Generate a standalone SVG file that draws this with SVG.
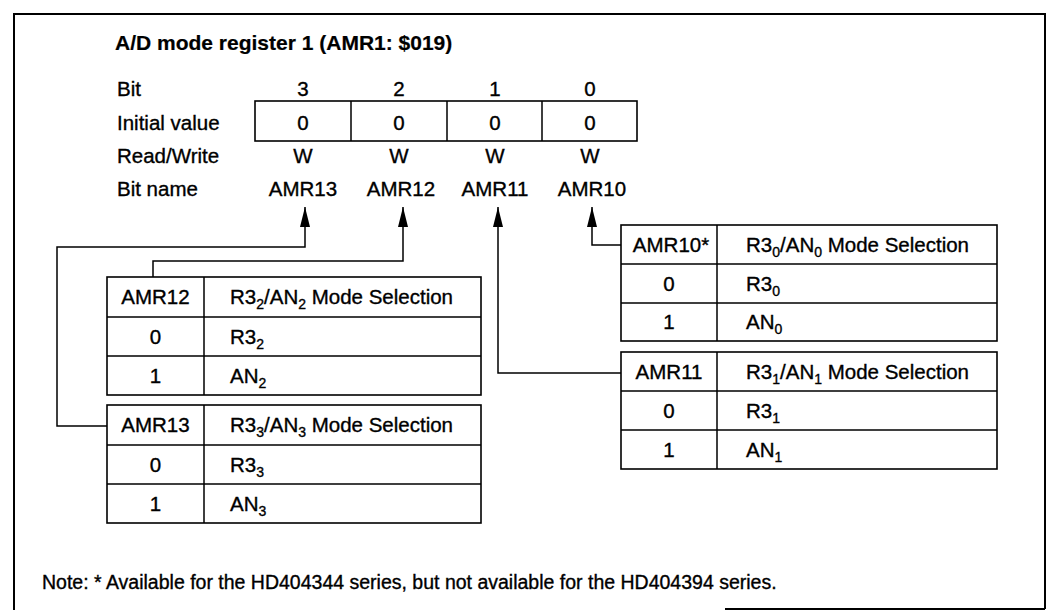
<svg xmlns="http://www.w3.org/2000/svg" width="1050" height="610" viewBox="0 0 1050 610">
<style>
text{font-family:"Liberation Sans",Arial,sans-serif;font-size:20.5px;fill:#000;stroke:#000;stroke-width:0.35}
.t{font-weight:bold;font-size:21px;stroke-width:0.2}
.c{text-anchor:middle}
.s{font-size:14px}
.n{font-size:19.5px}
.box{fill:none;stroke:#000;stroke-width:1.6}
.ln{fill:none;stroke:#000;stroke-width:1.5}
.con{fill:none;stroke:#000;stroke-width:1.5;marker-end:url(#ah)}
.fr{fill:none;stroke:#000;stroke-width:2}
</style>
<defs>
<marker id="ah" viewBox="0 0 20 10" refX="20" refY="5" markerWidth="20" markerHeight="10" orient="auto" markerUnits="userSpaceOnUse">
<path d="M0,0 L20,5 L0,10 z" fill="#000"/>
</marker>
</defs>
<rect width="1050" height="610" fill="#fff"/>
<path class="fr" d="M14,610 V14 H1045 V609 M725,609 H1045"/>

<g id="register">
<text class="t" x="115" y="50">A/D mode register 1 (AMR1:  $019)</text>
<text x="117" y="96">Bit</text>
<text x="117" y="130">Initial value</text>
<text x="117" y="163">Read/Write</text>
<text x="117" y="196">Bit name</text>
<text class="c" x="303" y="96">3</text>
<text class="c" x="399" y="96">2</text>
<text class="c" x="495" y="96">1</text>
<text class="c" x="590" y="96">0</text>
<rect class="box" x="255" y="101" width="382" height="40"/>
<path class="ln" d="M351,101 V141 M447,101 V141 M542,101 V141"/>
<text class="c" x="303" y="130">0</text>
<text class="c" x="399" y="130">0</text>
<text class="c" x="495" y="130">0</text>
<text class="c" x="590" y="130">0</text>
<text class="c" x="303" y="163">W</text>
<text class="c" x="399" y="163">W</text>
<text class="c" x="495" y="163">W</text>
<text class="c" x="590" y="163">W</text>
<text class="c" x="303" y="196">AMR13</text>
<text class="c" x="401" y="196">AMR12</text>
<text class="c" x="495" y="196">AMR11</text>
<text class="c" x="592" y="196">AMR10</text>
</g>

<g id="connectors">
<polyline class="con" points="107,426 57,426 57,247 305,247 305,207"/>
<polyline class="con" points="153,277 153,261 403,261 403,207"/>
<polyline class="con" points="621,373 498,373 498,207"/>
<polyline class="con" points="621,245 592,245 592,207"/>
</g>

<g id="amr12">
<rect class="box" x="107" y="277" width="374" height="118"/>
<path class="ln" d="M204,277 V395 M107,317 H481 M107,356 H481"/>
<text class="c" x="155.5" y="304">AMR12</text>
<text x="230" y="304">R3<tspan class="s" dy="5">2</tspan><tspan dy="-5">/AN</tspan><tspan class="s" dy="5">2</tspan><tspan dy="-5"> Mode Selection</tspan></text>
<text class="c" x="155.5" y="344">0</text>
<text x="230" y="344">R3<tspan class="s" dy="5">2</tspan></text>
<text class="c" x="155.5" y="383">1</text>
<text x="230" y="383">AN<tspan class="s" dy="5">2</tspan></text>
</g>

<g id="amr13">
<rect class="box" x="107" y="405" width="374" height="118"/>
<path class="ln" d="M204,405 V523 M107,445 H481 M107,484 H481"/>
<text class="c" x="155.5" y="432">AMR13</text>
<text x="230" y="432">R3<tspan class="s" dy="5">3</tspan><tspan dy="-5">/AN</tspan><tspan class="s" dy="5">3</tspan><tspan dy="-5"> Mode Selection</tspan></text>
<text class="c" x="155.5" y="472">0</text>
<text x="230" y="472">R3<tspan class="s" dy="5">3</tspan></text>
<text class="c" x="155.5" y="511">1</text>
<text x="230" y="511">AN<tspan class="s" dy="5">3</tspan></text>
</g>

<g id="amr10">
<rect class="box" x="621" y="225" width="376" height="116"/>
<path class="ln" d="M717,225 V341 M621,264 H997 M621,303 H997"/>
<text class="c" x="671" y="252">AMR10*</text>
<text x="746" y="252">R3<tspan class="s" dy="5">0</tspan><tspan dy="-5">/AN</tspan><tspan class="s" dy="5">0</tspan><tspan dy="-5"> Mode Selection</tspan></text>
<text class="c" x="669" y="291">0</text>
<text x="746" y="291">R3<tspan class="s" dy="5">0</tspan></text>
<text class="c" x="669" y="329">1</text>
<text x="746" y="329">AN<tspan class="s" dy="5">0</tspan></text>
</g>

<g id="amr11">
<rect class="box" x="621" y="352" width="376" height="117"/>
<path class="ln" d="M717,352 V469 M621,391 H997 M621,430 H997"/>
<text class="c" x="669" y="379">AMR11</text>
<text x="746" y="379">R3<tspan class="s" dy="5">1</tspan><tspan dy="-5">/AN</tspan><tspan class="s" dy="5">1</tspan><tspan dy="-5"> Mode Selection</tspan></text>
<text class="c" x="669" y="418">0</text>
<text x="746" y="418">R3<tspan class="s" dy="5">1</tspan></text>
<text class="c" x="669" y="457">1</text>
<text x="746" y="457">AN<tspan class="s" dy="5">1</tspan></text>
</g>

<g id="note">
<text class="n" x="42" y="589">Note:  * Available for the HD404344 series, but not available for the HD404394 series.</text>
</g>
</svg>
